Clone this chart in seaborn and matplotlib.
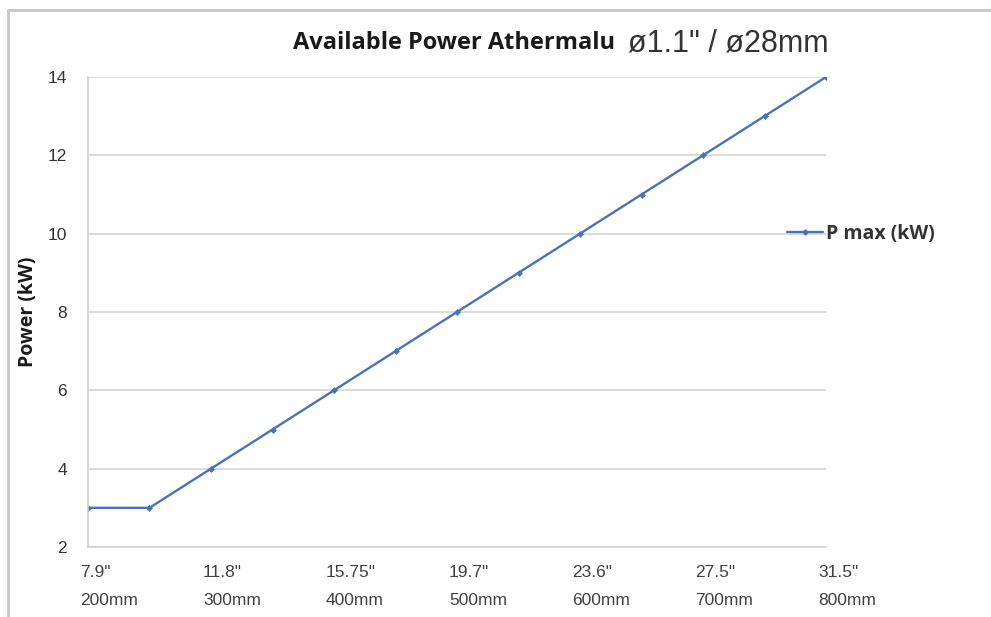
import matplotlib
matplotlib.use("Agg")
import matplotlib.pyplot as plt
from matplotlib.lines import Line2D
from matplotlib.transforms import ScaledTranslation
import seaborn as sns
import pandas as pd

# Data
length_mm = [200, 250, 300, 350, 400, 450, 500, 550, 600, 650, 700, 750, 800]
p_max_kw = [3, 3, 4, 5, 6, 7, 8, 9, 10, 11, 12, 13, 14]
tick_mm = [200, 300, 400, 500, 600, 700, 800]
tick_labels = ['7.9"\n200mm', '11.8"\n300mm', '15.75"\n400mm', '19.7"\n500mm',
               '23.6"\n600mm', '27.5"\n700mm', '31.5"\n800mm']
y_ticks = [2, 4, 6, 8, 10, 12, 14]
series_name = "P max (kW)"

df = pd.DataFrame({"Length": length_mm, "P": p_max_kw, "Series": series_name})

sns.set_theme(style="white")
plt.rcParams['font.family'] = ['Liberation Sans', 'DejaVu Sans']
BOLD_FAMILY = ["Open Sans", "DejaVu Sans"]

W, H = 991, 617
fig = plt.figure(figsize=(W / 100, H / 100), dpi=100)
ax = fig.add_axes([88 / W, 1 - 547 / H, (826 - 88) / W, (547 - 77) / H])

line_color = "#4A72B8"
sns.lineplot(data=df, x="Length", y="P", ax=ax, color=line_color, linewidth=1.7,
             marker="D", markersize=3.5, markeredgewidth=0, legend=False)

ax.set_xlim(200, 800)
ax.set_ylim(2, 14)
ax.set_yticks(y_ticks)
ax.set_xticks(tick_mm)
ax.tick_params(axis="both", length=0)
ax.tick_params(axis="y", pad=15)
ax.tick_params(axis="x", pad=13)
ax.set_yticklabels([str(v) for v in y_ticks], fontsize=12.5, color="#333333")
ax.set_xticklabels(tick_labels, fontsize=12.5, color="#404040", ha="left",
                   va="top", linespacing=2.1)
shift = ScaledTranslation(-8 / 100, 0, fig.dpi_scale_trans)
for lbl in ax.get_xticklabels():
    lbl.set_transform(lbl.get_transform() + shift)

ax.yaxis.grid(True, color="#d4d4d4", linewidth=1.2)
ax.xaxis.grid(False)
for s in ["top", "right"]:
    ax.spines[s].set_visible(False)
for s in ["left", "bottom"]:
    ax.spines[s].set_color("#cfcfcf")
    ax.spines[s].set_linewidth(1.2)
ax.set_xlabel("")
ax.set_ylabel("")

fig.text(28 / W, 1 - 312 / H, "Power (kW)", rotation=90, ha="center", va="center",
         fontsize=14, fontweight="bold", family=BOLD_FAMILY, color="#1a1a1a")

# Title
fig.text(293 / W, 1 - 43 / H, "Available Power Athermalu", ha="left", va="center",
         fontsize=17, fontweight="bold", family=BOLD_FAMILY, color="#1a1a1a")
fig.text(628 / W, 1 - 44 / H, "ø1.1\" / ø28mm", ha="left", va="center",
         fontsize=22, family=["Liberation Sans", "DejaVu Sans"], color="#333333")

# Legend
handle = Line2D([], [], color=line_color, linewidth=1.7, marker="D", markersize=3.5,
                markeredgewidth=0)
leg = fig.legend([handle], [series_name], loc="center left",
                 bbox_to_anchor=(769 / W, 1 - 234 / H), frameon=False,
                 handlelength=1.9, handletextpad=0.15,
                 prop={"family": BOLD_FAMILY, "weight": "bold", "size": 14})
for t in leg.get_texts():
    t.set_color("#333333")

# Outer border (top and left edges)
fig.add_artist(Line2D([8 / W, 1], [1 - 10 / H, 1 - 10 / H], transform=fig.transFigure,
                      color="#c8c8c8", linewidth=2))
fig.add_artist(Line2D([8 / W, 8 / W], [0, 1 - 10 / H], transform=fig.transFigure,
                      color="#c8c8c8", linewidth=2))

fig.savefig("out.png", dpi=100, facecolor="white")
